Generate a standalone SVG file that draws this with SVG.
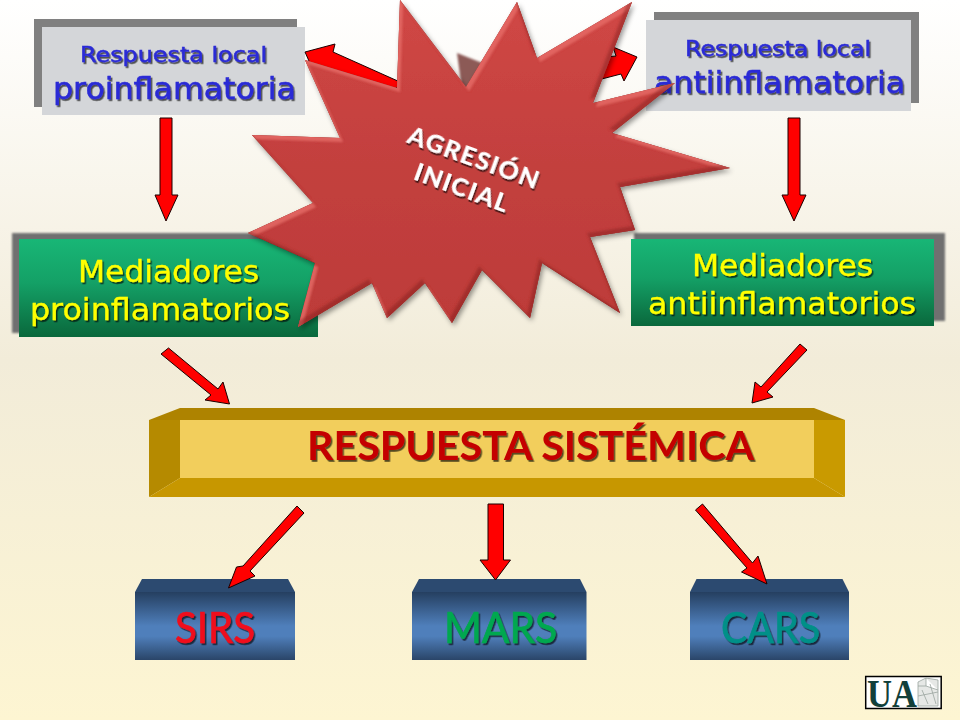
<svg xmlns="http://www.w3.org/2000/svg" width="960" height="720" viewBox="0 0 960 720">
<defs>
<linearGradient id="bg" x1="0" y1="0" x2="0" y2="1"><stop offset="0" stop-color="#ffffff"/><stop offset="0.5" stop-color="#f2ecd9"/><stop offset="1" stop-color="#fdf5d2"/></linearGradient>
<linearGradient id="green" x1="0" y1="0" x2="0" y2="1"><stop offset="0" stop-color="#18b676"/><stop offset="0.45" stop-color="#14a066"/><stop offset="1" stop-color="#0a683c"/></linearGradient>
<linearGradient id="blue" x1="0" y1="0" x2="0" y2="1"><stop offset="0" stop-color="#253f60"/><stop offset="0.5" stop-color="#4f7fbb"/><stop offset="0.65" stop-color="#4f7fbb"/><stop offset="1" stop-color="#2a4568"/></linearGradient>
<linearGradient id="starFill" x1="0" y1="0" x2="0" y2="1"><stop offset="0" stop-color="#d04745"/><stop offset="0.5" stop-color="#c3403e"/><stop offset="1" stop-color="#bd3b39"/></linearGradient>
<filter id="ts" x="-10%" y="-20%" width="120%" height="150%"><feDropShadow dx="1.500" dy="1.800" stdDeviation="0.700" flood-color="#000" flood-opacity="0.650"/></filter>
<filter id="blur2" x="-5%" y="-5%" width="110%" height="110%"><feGaussianBlur stdDeviation="1.200"/></filter>
<filter id="bevel" x="-5%" y="-5%" width="110%" height="115%">
<feDropShadow in="SourceAlpha" dx="2" dy="3" stdDeviation="2.500" flood-color="#000" flood-opacity="0.400" result="drop"/>
<feOffset in="SourceAlpha" dx="3" dy="4" result="o1"/><feGaussianBlur in="o1" stdDeviation="1.200" result="o1b"/>
<feComposite in="SourceAlpha" in2="o1b" operator="out" result="hiA"/>
<feFlood flood-color="#ea6f6a" flood-opacity="0.700"/><feComposite in2="hiA" operator="in" result="hi"/>
<feOffset in="SourceAlpha" dx="-3" dy="-4" result="o2"/><feGaussianBlur in="o2" stdDeviation="1.200" result="o2b"/>
<feComposite in="SourceAlpha" in2="o2b" operator="out" result="loA"/>
<feFlood flood-color="#8a2422" flood-opacity="0.550"/><feComposite in2="loA" operator="in" result="lo"/>
<feMerge><feMergeNode in="drop"/><feMergeNode in="SourceGraphic"/><feMergeNode in="hi"/><feMergeNode in="lo"/></feMerge>
</filter>
</defs>
<style>
.arrow{fill:#ff0000;stroke:#1a0000;stroke-width:1}
.shadow{fill:#808080}
.grey{fill:#d4d6d9}
.gt{fill:url(#green)}
.v{font-family:"DejaVu Sans",Verdana,sans-serif;text-anchor:middle;filter:url(#ts)}
.blue{fill:#2a2ad6;stroke:#2a2ad6;stroke-width:0.500}
.yel{fill:#ffff00;stroke:#ffff00;stroke-width:0.300}
.cal{font-family:Lato,"Open Sans",sans-serif;text-anchor:middle;filter:url(#ts)}
.thick{stroke-width:0.700}
.boxtop{fill:#2c4a70}
.boxbody{fill:url(#blue)}
</style>
<rect width="960" height="720" fill="url(#bg)"/>

<g id="node-local-pro">
<rect class="shadow" x="34" y="19" width="263" height="88"/>
<rect class="grey" x="42" y="27" width="263" height="88"/>
<text class="v blue" x="173.500" y="62" font-size="21" textLength="187" lengthAdjust="spacingAndGlyphs">Respuesta local</text>
<text class="v blue" x="174.500" y="99" font-size="30" textLength="243" lengthAdjust="spacingAndGlyphs">proinflamatoria</text>
</g>
<g id="node-local-anti">
<rect class="shadow" x="654" y="12" width="265" height="91"/>
<rect class="grey" x="646" y="20" width="265" height="91"/>
<text class="v blue" x="778" y="56" font-size="21" textLength="186" lengthAdjust="spacingAndGlyphs">Respuesta local</text>
<text class="v blue" x="779.500" y="93" font-size="30" textLength="251" lengthAdjust="spacingAndGlyphs">antiinflamatoria</text>
</g>
<g id="node-med-pro">
<rect x="12" y="233" width="300" height="100" fill="#6f6f6f" filter="url(#blur2)"/>
<rect class="gt" x="19" y="239" width="299" height="98"/>
<text class="v yel" x="168.500" y="282" font-size="30" textLength="181" lengthAdjust="spacingAndGlyphs">Mediadores</text>
<text class="v yel" x="160" y="320" font-size="30" textLength="260" lengthAdjust="spacingAndGlyphs">proinflamatorios</text>
</g>
<g id="node-med-anti">
<rect x="634" y="233" width="311" height="88" fill="#6f6f6f" filter="url(#blur2)"/>
<rect class="gt" x="631" y="239" width="303" height="87"/>
<text class="v yel" x="782.500" y="276" font-size="30" textLength="181" lengthAdjust="spacingAndGlyphs">Mediadores</text>
<text class="v yel" x="782" y="314" font-size="30" textLength="268" lengthAdjust="spacingAndGlyphs">antiinflamatorios</text>
</g>
<g id="node-sistemica">
<polygon points="149,420 180,408 814,408 845,420 814,420 180,420" fill="#ae8300"/>
<polygon points="149,420 180,420 180,478 149,497" fill="#b58a00"/>
<polygon points="149,497 180,478 814,478 845,497" fill="#c79700"/>
<polygon points="845,420 814,420 814,478 845,497" fill="#c99a00"/>
<rect x="180" y="420" width="634" height="58" fill="#f2ce5c"/>
<text class="cal" x="530.500" y="460" font-size="41" font-weight="700" fill="#c40000" textLength="447" lengthAdjust="spacingAndGlyphs">RESPUESTA SISTÉMICA</text>
</g>
<g id="node-sirs">
<rect class="boxbody" x="135" y="592" width="160" height="68"/>
<polygon class="boxtop" points="135,592 142,579 288,579 295,592"/>
<text class="cal" x="215" y="643" font-size="43" fill="#f0101c" stroke="#f0101c" stroke-width="0.700" textLength="80" lengthAdjust="spacingAndGlyphs">SIRS</text>
</g>
<g id="node-mars">
<rect class="boxbody" x="412" y="592" width="174.500" height="68"/>
<polygon class="boxtop" points="412,592 419,579 580,579 586.500,592"/>
<text class="cal" x="500.500" y="643" font-size="43" fill="#00a850" stroke="#00a850" stroke-width="0.700" textLength="113" lengthAdjust="spacingAndGlyphs">MARS</text>
</g>
<g id="node-cars">
<rect class="boxbody" x="690" y="592" width="159" height="68"/>
<polygon class="boxtop" points="690,592 696.500,579 842.500,579 849,592"/>
<text class="cal" x="770.500" y="643" font-size="43" fill="#009088" stroke="#009088" stroke-width="0.700" textLength="99" lengthAdjust="spacingAndGlyphs">CARS</text>
</g>
<g id="node-logo">
<rect x="865.700" y="676.500" width="75.500" height="32" fill="#ffffff" stroke="#000" stroke-width="1.500"/>
<text x="867" y="707" font-family="Liberation Serif,serif" font-size="40" font-weight="700" fill="#12403a" textLength="50" lengthAdjust="spacingAndGlyphs">UA</text>
<path d="M918 682l8-4 12 2v26h-20zM926 678v8l12 4M918 686l8 0M922 690l6 14M930 684l6 20M918 696l20-4" fill="#e6e8e6" stroke="#9aa5a0" stroke-width="0.800"/>
</g>

<g id="connectors">
<polygon class="arrow" points="305,52 335,44 333,52 400,82 390,100 320,72 309,61"/>
<polygon class="arrow" points="613,47 637,57 624,81 621,74 590,82 595,58 616,56"/>
<polygon class="arrow" points="160,118 172,118 172,195 178,195 166,221 155,195 160,195"/>
<polygon class="arrow" points="788,118 800,118 800,195 806,195 794,221 782,195 788,195"/>
<polygon class="arrow" points="168.500,348 218,389 223,382 229.500,404 205,400 211,395 161,354"/>
<polygon class="arrow" points="800,344 807,350 767,392 773,397 752,403 755,382 761,387"/>
<polygon class="arrow" points="297,506 304,513 250,571 255,576 228.500,588 236.500,567 243,566"/>
<polygon class="arrow" points="488,504 503.500,504 503.500,560 510.500,560 495.500,580 480,560 488,560"/>
<polygon class="arrow" points="702.500,504 695.500,510 747,568 741.500,572 767,584 758,556 752.500,563"/>
</g>

<g id="node-agresion">
<polygon points="457,53 490,66 480,90 462,90" fill="#8c5a56" filter="url(#blur2)"/>
<polygon filter="url(#bevel)" fill="url(#starFill)" points="400,0 466,87 517,2 537,58 632,2 593,103 675,83 612,133 730,168 620,187 635,230 590,237 620,313 542,263 530,318 482,270 452,323 425,283 387,318 372,283 298,327 315,263 248,233 313,203 252,135 340,138 305,60 397,88"/>
<text class="cal" transform="translate(471,166) rotate(20)" font-size="25.500" font-weight="900" fill="#ffffff" letter-spacing="1.200">AGRESIÓN</text>
<text class="cal" transform="translate(459,196) rotate(20)" font-size="25.500" font-weight="900" fill="#ffffff" letter-spacing="1.200">INICIAL</text>
</g>
</svg>
